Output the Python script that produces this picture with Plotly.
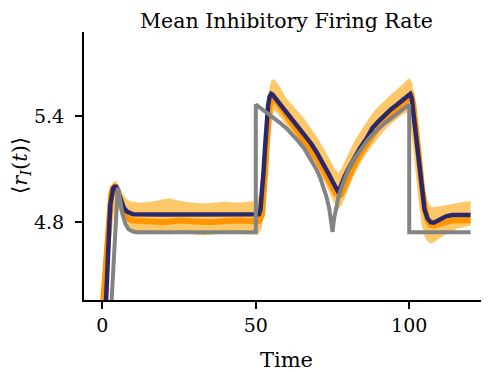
import plotly.graph_objects as go

# ── data ────────────────────────────────────────────────────
# target (gray)
t_target = [2.5, 3.0, 3.5, 4.0, 4.4, 4.7, 5.0, 5.3, 5.8, 6.5, 7.5, 8.5, 10, 11, 20, 30, 40, 50,
            50, 52, 54, 56, 58, 60, 62, 64, 66, 68, 70, 71, 72, 73, 74, 74.5, 75,
            75.5, 76, 77, 78, 79, 80, 82, 84, 86, 88, 90, 92, 94, 96, 98, 100,
            100, 110, 120]
r_target = [4.20, 4.37, 4.53, 4.68, 4.82, 4.93, 4.995, 4.98, 4.92, 4.85, 4.79, 4.76, 4.747, 4.743, 4.743, 4.743, 4.743, 4.743,
            5.465, 5.44, 5.41, 5.385, 5.36, 5.33, 5.295, 5.255, 5.21, 5.155, 5.09, 5.05, 5.00, 4.945, 4.87, 4.82, 4.745,
            4.82, 4.87, 4.945, 5.00, 5.05, 5.09, 5.155, 5.21, 5.255, 5.295, 5.33, 5.36, 5.385, 5.41, 5.44, 5.465,
            4.743, 4.743, 4.743]

# model mean (navy)
t_model = [1.2, 1.5, 2.0, 2.3, 2.6, 3.0, 3.5, 4.0, 4.5, 5.0, 5.5, 6, 7, 8, 9, 10, 20, 30, 40, 50,
           51, 51.5, 52, 52.5, 53, 53.5, 54, 54.5, 55, 55.5, 56, 58, 60, 62, 64, 66, 68, 70, 72, 73, 74, 75, 76, 76.7,
           77.3, 78, 79, 80, 82, 84, 86, 88, 90, 92, 94, 96, 98, 100, 100.3,
           100.8, 101.3, 102, 103, 104, 105, 106, 107, 108, 109, 110, 112, 114, 120]
r_model = [4.36, 4.45, 4.65, 4.80, 4.90, 4.96, 4.99, 5.00, 5.00, 4.98, 4.95, 4.92, 4.88, 4.86, 4.85, 4.845, 4.843, 4.843, 4.843, 4.843,
           4.845, 4.87, 4.95, 5.08, 5.22, 5.36, 5.46, 5.51, 5.525, 5.52, 5.51, 5.465, 5.42, 5.378, 5.337, 5.295, 5.245, 5.19, 5.132, 5.10, 5.065, 5.03, 4.995, 4.976,
           4.985, 5.02, 5.06, 5.095, 5.16, 5.22, 5.27, 5.332, 5.37, 5.405, 5.437, 5.464, 5.492, 5.52, 5.525,
           5.50, 5.42, 5.32, 5.14, 4.98, 4.87, 4.82, 4.80, 4.797, 4.805, 4.818, 4.833, 4.84, 4.84]

# simulation mean (orange)
t_sim = [0.3, 0.8, 1.3, 1.8, 2.3, 2.8, 3.3, 3.8, 4.3, 5.0, 5.5, 6, 7, 8, 9, 10, 15, 20, 25, 30, 35, 40, 45, 50,
         51, 52, 52.5, 53, 53.5, 54, 54.5, 55, 55.5, 56, 57, 58, 60, 62, 64, 66, 68, 70, 72, 74, 75, 76, 77, 77.7,
         78.5, 80, 82, 84, 86, 88, 90, 92, 94, 96, 98, 100, 100.8,
         101.3, 102, 103, 104, 105, 106, 107, 108, 109, 110, 112, 114, 120]
r_sim = [4.36, 4.50, 4.65, 4.78, 4.88, 4.95, 4.99, 5.00, 4.99, 4.96, 4.93, 4.90, 4.85, 4.825, 4.815, 4.81, 4.805, 4.80, 4.81, 4.805, 4.80, 4.806, 4.81, 4.805,
         4.805, 4.84, 4.93, 5.07, 5.22, 5.36, 5.45, 5.49, 5.505, 5.50, 5.475, 5.45, 5.40, 5.35, 5.305, 5.26, 5.21, 5.155, 5.095, 5.03, 4.995, 4.965, 4.95, 4.955,
         4.985, 5.05, 5.12, 5.185, 5.24, 5.295, 5.34, 5.38, 5.415, 5.445, 5.475, 5.50, 5.51,
         5.47, 5.38, 5.20, 5.02, 4.88, 4.81, 4.785, 4.78, 4.785, 4.795, 4.805, 4.81, 4.81]

# simulation spread (light orange band)
t_band = [0.0, 0.5, 1.0, 1.5, 2.0, 2.5, 3.0, 3.5, 4.0, 4.5, 5.0, 5.5, 6, 7, 8, 9, 10, 12.5, 15, 17.5, 20, 22, 24, 27, 30, 33, 36, 40, 44, 48, 50,
          51, 52, 53, 54, 55, 56, 57, 58, 60, 62, 64, 66, 68, 70, 72, 74, 75, 76, 77, 78, 79, 80, 82, 84, 86, 88, 90, 92, 94, 96, 98, 100,
          101, 102, 103, 104, 105, 106, 107, 108, 110, 113, 116, 120]
band_hi = [4.36, 4.45, 4.58, 4.72, 4.84, 4.92, 4.98, 5.01, 5.03, 5.035, 5.02, 5.00, 4.98, 4.95, 4.93, 4.92, 4.915, 4.91, 4.915, 4.92, 4.93, 4.935, 4.925, 4.915, 4.91, 4.905, 4.91, 4.915, 4.91, 4.915, 4.92,
           4.95, 5.10, 5.33, 5.52, 5.60, 5.61, 5.585, 5.56, 5.50, 5.46, 5.42, 5.38, 5.33, 5.28, 5.22, 5.16, 5.125, 5.095, 5.08, 5.105, 5.145, 5.18, 5.255, 5.31, 5.365, 5.415, 5.455, 5.49, 5.52, 5.55, 5.58, 5.615,
           5.59, 5.47, 5.31, 5.13, 4.99, 4.92, 4.89, 4.885, 4.89, 4.90, 4.91, 4.92]
band_lo = [4.20, 4.25, 4.33, 4.42, 4.52, 4.63, 4.74, 4.82, 4.87, 4.89, 4.89, 4.87, 4.84, 4.79, 4.76, 4.745, 4.735, 4.73, 4.735, 4.74, 4.735, 4.73, 4.735, 4.74, 4.73, 4.725, 4.73, 4.735, 4.735, 4.73, 4.73,
           4.735, 4.77, 4.93, 5.17, 5.37, 5.43, 5.415, 5.39, 5.345, 5.30, 5.255, 5.21, 5.16, 5.10, 5.04, 4.97, 4.93, 4.895, 4.875, 4.895, 4.94, 4.985, 5.065, 5.13, 5.185, 5.235, 5.28, 5.32, 5.355, 5.385, 5.41, 5.425,
           5.28, 5.10, 4.93, 4.79, 4.72, 4.69, 4.68, 4.685, 4.71, 4.745, 4.765, 4.78]

x_ticks = [0, 50, 100]
y_ticks = [4.8, 5.4]

FONT = "DejaVu Serif"

fig = go.Figure()

fig.add_trace(go.Scatter(
    x=t_band + t_band[::-1], y=band_hi + band_lo[::-1],
    fill="toself", fillcolor="#fdc86a",
    line=dict(width=0), mode="lines", hoverinfo="skip", showlegend=False,
))
fig.add_trace(go.Scatter(x=t_sim, y=r_sim, mode="lines",
                         line=dict(color="#ff9500", width=6), showlegend=False))
fig.add_trace(go.Scatter(x=t_model, y=r_model, mode="lines",
                         line=dict(color="#2b2768", width=4.5), showlegend=False))
fig.add_trace(go.Scatter(x=t_target, y=r_target, mode="lines",
                         line=dict(color="#838383", width=4), showlegend=False))

axis_common = dict(
    showline=True, linecolor="black", linewidth=2,
    ticks="outside", ticklen=7, tickwidth=2, tickcolor="black",
    showgrid=False, zeroline=False, automargin=False,
    tickfont=dict(family=FONT, size=19, color="black"),
)

# the page body adds an 8px offset, so the figure is sized to fit the window
fig.update_layout(
    width=481, height=364,
    margin=dict(l=76, r=0, t=24, b=72),
    paper_bgcolor="white", plot_bgcolor="white",
    title=dict(text="Mean Inhibitory Firing Rate", x=0.5, xref="paper", xanchor="center",
               y=0.985, yref="container", yanchor="top",
               font=dict(family=FONT, size=20.5, color="black")),
    xaxis=dict(range=[-6, 126], tickvals=x_ticks,
               title=dict(text="Time", standoff=22, font=dict(family=FONT, size=21, color="black")),
               **axis_common),
    yaxis=dict(range=[4.36, 5.875], tickvals=y_ticks, ticklabelstandoff=7,
               **axis_common),
)

# y label placed by hand (rotated), left of the tick labels
fig.add_annotation(
    text="⟨<i>r</i><sub><i>I</i></sub>(<i>t</i>)⟩",
    x=0, xref="paper", xanchor="center", xshift=-63,
    y=0.5, yref="paper", yanchor="middle",
    textangle=-90, showarrow=False,
    font=dict(family=FONT, size=21, color="black"),
)

fig.write_html("out.html")
